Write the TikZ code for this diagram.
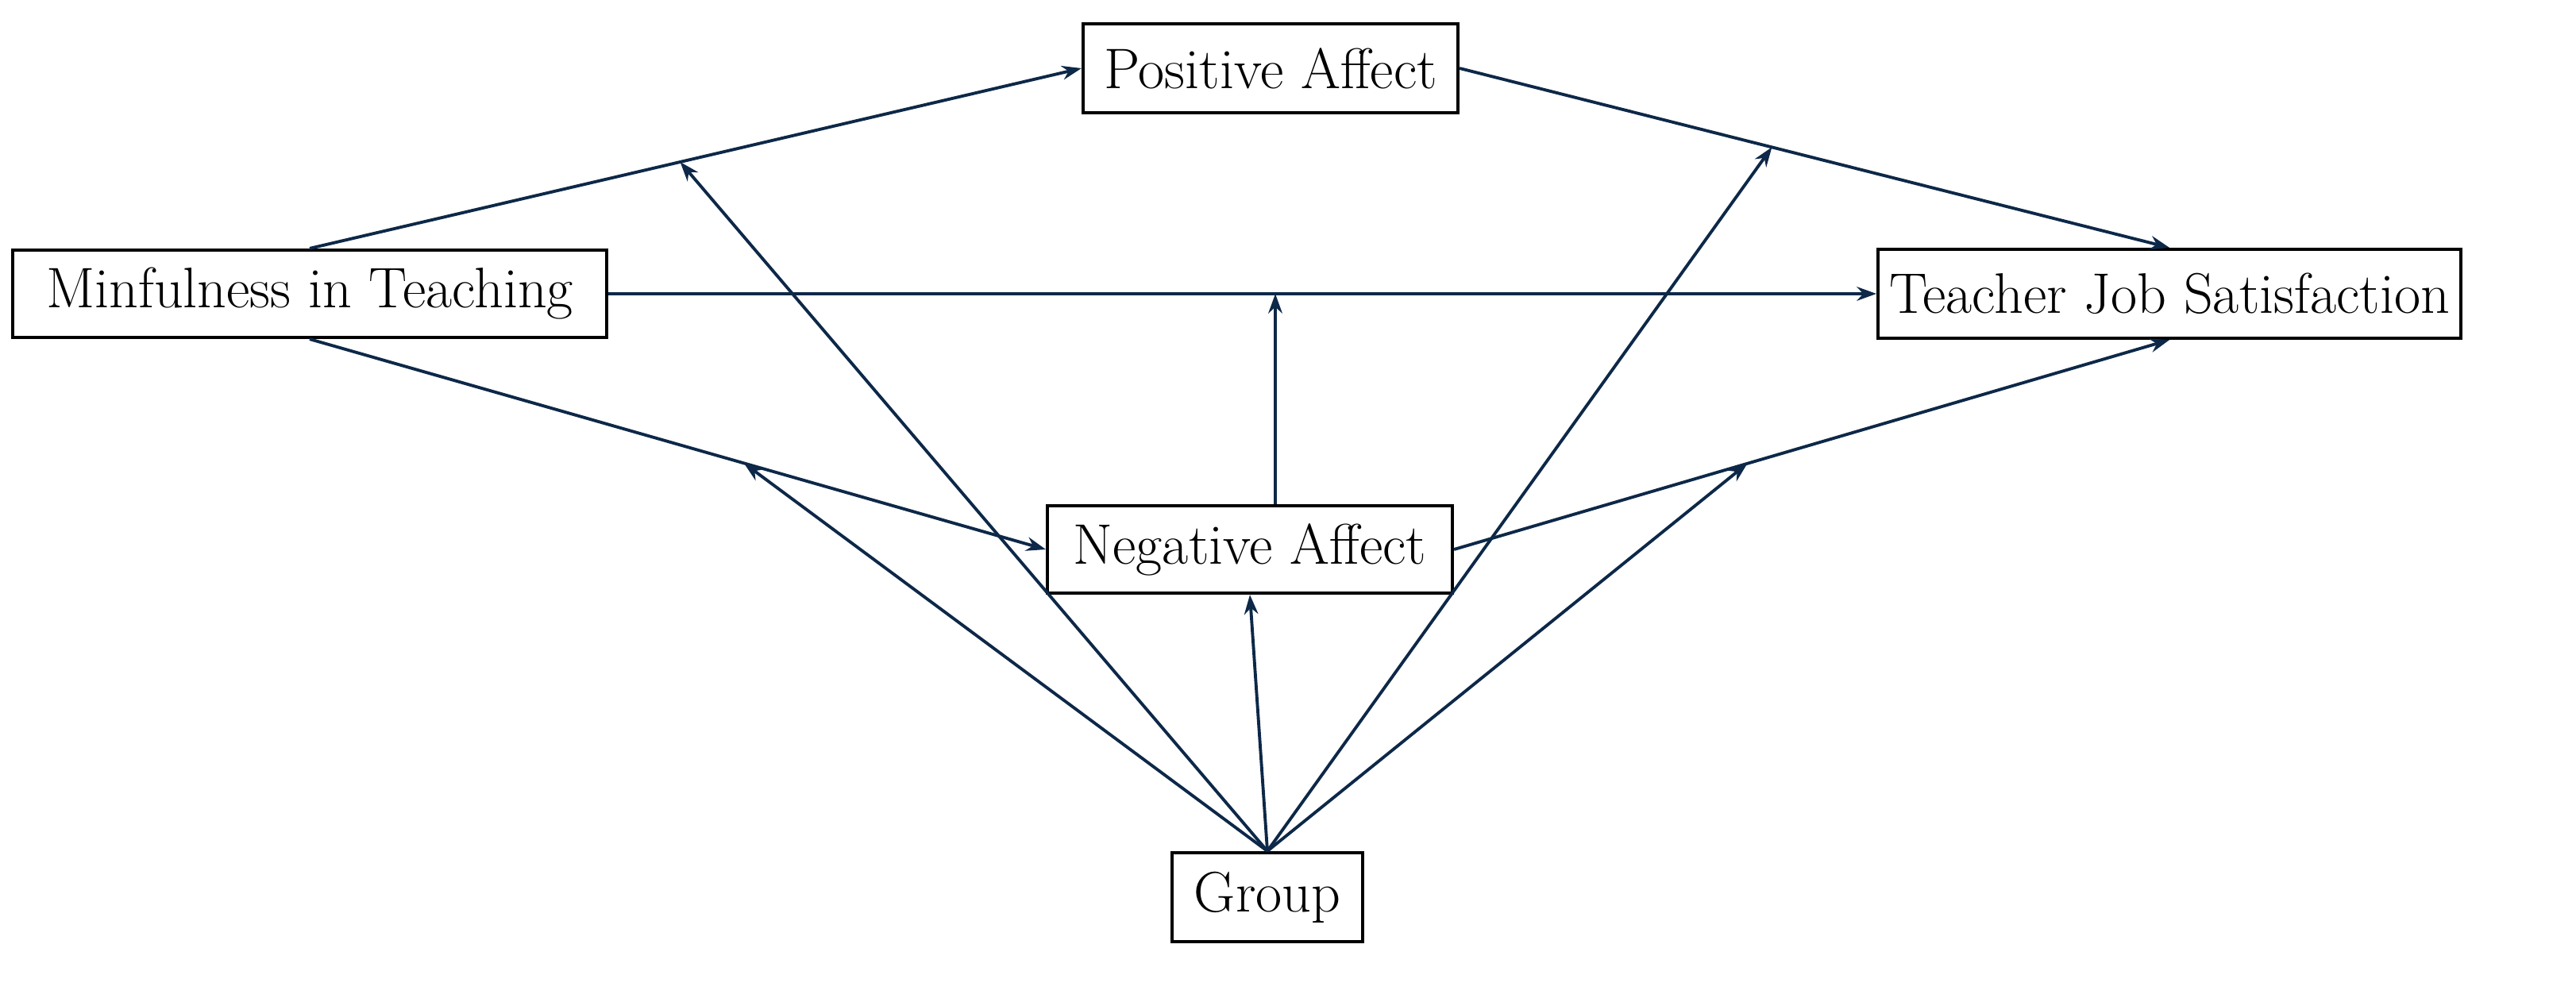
\documentclass[tikz,border=0pt]{standalone}
\usetikzlibrary{arrows.meta}
\begin{document}
\begin{tikzpicture}[x=0.02cm,y=-0.02cm,
  box/.style={draw,line width=1.2pt,inner sep=0pt,font=\fontsize{20.5}{24}\selectfont},
  arr/.style={draw={rgb,255:red,13;green,40;blue,72},line width=1.1pt,-{Stealth[length=7pt,width=5pt]}}]
\useasboundingbox (0,0) rectangle (1622,631);
\node[box,minimum width=4.72cm,minimum height=1.12cm] (pa) at (800,43) {Positive Affect};
\node[box,minimum width=7.48cm,minimum height=1.1cm] (mt) at (195,185) {Minfulness in Teaching};
\node[box,minimum width=7.34cm,minimum height=1.12cm] (tj) at (1366,185) {Teacher Job Satisfaction};
\node[box,minimum width=5.1cm,minimum height=1.1cm] (na) at (787,346) {Negative Affect};
\node[box,minimum width=2.4cm,minimum height=1.12cm] (gr) at (798,565) {Group};
\draw[arr] (mt.north) -- coordinate[pos=0.48] (m1) (pa.west);
\draw[arr] (pa.east) -- coordinate[pos=0.44] (m2) (tj.north);
\draw[arr] (mt.east) -- coordinate[pos=0.526] (m3) (tj.west);
\draw[arr] (mt.south) -- coordinate[pos=0.59] (m4) (na.west);
\draw[arr] (na.east) -- coordinate[pos=0.41] (m5) (tj.south);
\draw[arr] (na.north -| m3) -- (m3);
\draw[arr] (gr.north) -- (m1);
\draw[arr] (gr.north) -- (m2);
\draw[arr] (gr.north) -- (m4);
\draw[arr] (gr.north) -- (m5);
\draw[arr] (gr.north) -- (na.south);
\end{tikzpicture}
\end{document}
